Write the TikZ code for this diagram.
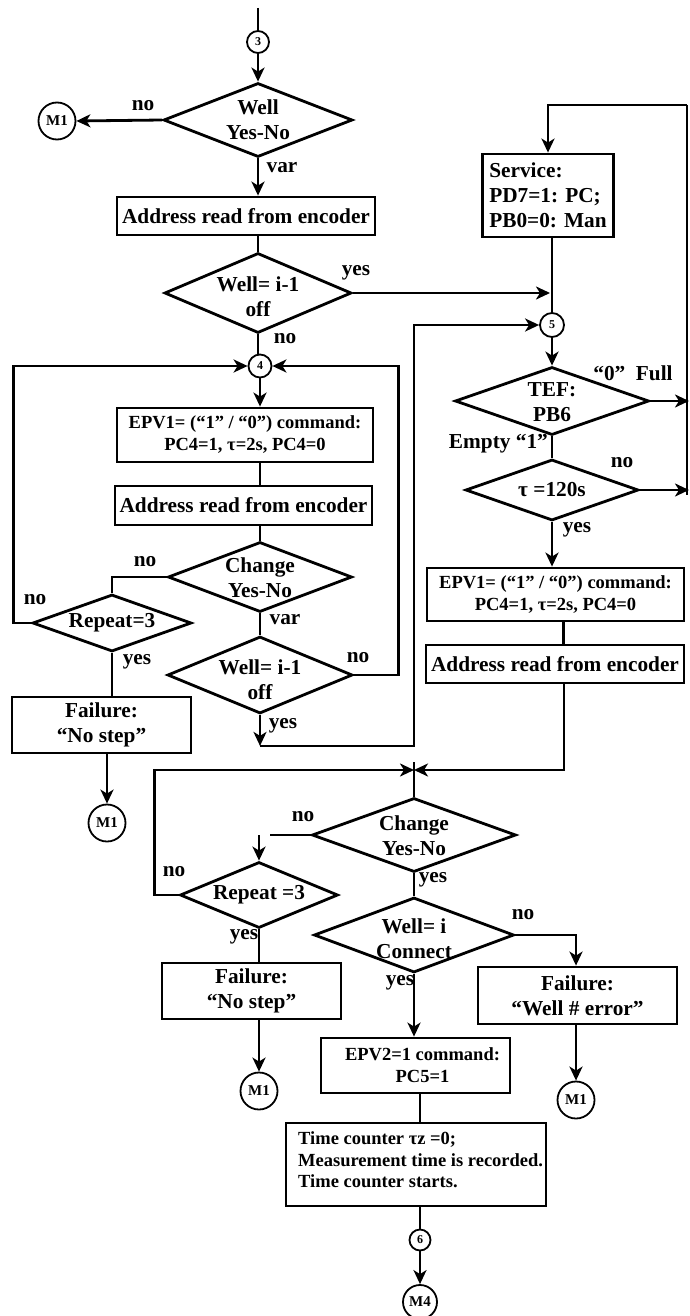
\documentclass[tikz,border=0pt]{standalone}
\usepackage{fontspec}
\setmainfont{Liberation Serif}
\usetikzlibrary{arrows.meta,shapes.geometric}
\begin{document}
\begin{tikzpicture}[x=1pt,y=-1pt,
 every node/.style={font=\bfseries\fontsize{21.3}{25}\selectfont},
 ln/.style={line width=2.8pt},
 arr/.style={line width=2.8pt,-{Stealth[length=14pt,width=13pt,inset=4pt]}},
 box/.style={draw,line width=2.8pt,inner sep=0pt,align=center},
 dia/.style={draw,diamond,line width=2.8pt,inner sep=0pt},
 txt/.style={inner sep=0pt,align=center},
 con/.style={draw,circle,line width=1.8pt,inner sep=0pt,minimum size=22pt,font=\bfseries\fontsize{12}{12}\selectfont},
 mcon/.style={draw,circle,line width=1.8pt,inner sep=0pt,minimum size=37pt,font=\bfseries\fontsize{15}{15}\selectfont},
 lab/.style={inner sep=0pt},
 sm/.style={font=\bfseries\fontsize{18.5}{22}\selectfont}
]
\useasboundingbox (0,0) rectangle (690,1316);

% ---------------- left column ----------------
\coordinate (top) at (258,8);
\node[con] (c3) at (258,42) {3};
\node[dia,minimum width=189pt,minimum height=74pt] (d1) at (258,120) {};
\node[txt] (d1t) at (258,120) {Well\\Yes-No};
\node[mcon] (m1a) at (57,121) {M1};
\node[box,minimum width=258pt,minimum height=38pt] (b1) at (246,216) {Address read from encoder};
\node[dia,minimum width=187pt,minimum height=80pt] (d2) at (258,293) {};
\node[txt] (d2t) at (258,297) {Well= i-1\\off};
\node[con,minimum size=23pt] (c4) at (260,366) {4};
\node[box,sm,minimum width=256pt,minimum height=54pt] (b2) at (245,435) {EPV1= (“1” / “0”) command:\\PC4=1, τ=2s, PC4=0};
\node[box,minimum width=257pt,minimum height=39pt] (b3) at (243.5,505.5) {Address read from encoder};
\node[dia,minimum width=184pt,minimum height=70pt] (d3) at (260,577) {};
\node[txt] (d3t) at (260,578) {Change\\Yes-No};
\node[dia,minimum width=159pt,minimum height=57pt] (d4) at (112,623) {};
\node[txt] (d4t) at (112,623) {Repeat=3};
\node[box,minimum width=179pt,minimum height=56pt] (b4) at (101.5,725) {Failure:\\“No step”};
\node[mcon] (m1b) at (107,823) {M1};
\node[dia,minimum width=185pt,minimum height=77pt] (d5) at (260,675) {};
\node[txt] (d5t) at (260,680) {Well= i-1\\off};

% ---------------- right column ----------------
\coordinate (tr) at (687,105);
\coordinate (trb) at (687,495);
\node[box,align=left,inner xsep=7pt,minimum width=130pt,minimum height=83pt] (b5) at (548,195.5) {Service:\\PD7=1: PC;\\PB0=0: Man};
\node[con,minimum size=24pt] (c5) at (552,325) {5};
\node[dia,minimum width=194pt,minimum height=68pt] (d6) at (552,401) {};
\node[txt] (d6t) at (552,402) {TEF:\\PB6};
\node[dia,minimum width=173pt,minimum height=61pt] (d7) at (552,490) {};
\node[txt] (d7t) at (552,490) {τ =120s};
\coordinate (r1) at (689,401);
\coordinate (r2) at (689,490);
\node[box,sm,minimum width=257pt,minimum height=53pt] (b6) at (555.5,594.5) {EPV1= (“1” / “0”) command:\\PC4=1, τ=2s, PC4=0};
\node[box,minimum width=258pt,minimum height=38pt] (b7) at (555,664) {Address read from encoder};

% ---------------- bottom part ----------------
\coordinate (X) at (414,770);
\coordinate (Xt) at (414,762);
\node[dia,minimum width=204pt,minimum height=74pt] (d8) at (414,835) {};
\node[txt] (d8t) at (414,836) {Change\\Yes-No};
\node[dia,minimum width=158pt,minimum height=66pt] (d9) at (259,895) {};
\node[txt] (d9t) at (259,895) {Repeat =3};
\node[box,minimum width=179pt,minimum height=56pt] (b8) at (251.5,991) {Failure:\\“No step”};
\node[mcon] (m1c) at (259,1091) {M1};
\node[dia,minimum width=200pt,minimum height=75pt] (d10) at (414,935) {};
\node[txt] (d10t) at (414,939) {Well= i\\Connect};
\node[box,minimum width=199pt,minimum height=57pt] (b9) at (577.5,995.5) {Failure:\\“Well \# error”};
\node[mcon] (m1d) at (576,1100) {M1};
\node[box,sm,minimum width=189pt,minimum height=55pt] (b10) at (415.5,1065.5) {\hspace*{14pt}EPV2=1 command:\\\hspace*{14pt}PC5=1};
\node[box,minimum width=260pt,minimum height=83pt] (b11) at (416,1164.5) {};
\node[txt,align=left,anchor=west,font=\bfseries\fontsize{18.5}{21.5}\selectfont] (b11t) at (298,1160) {Time counter τz =0;\\Measurement time is recorded.\\Time counter starts.};
\node[con,minimum size=21pt] (c6) at (420,1240) {6};
\node[mcon,minimum size=34pt] (m4) at (420,1302) {M4};

% ---------------- labels ----------------
\node[lab] (l1) at (143,106) {no};
\node[lab] (l2) at (282,168) {var};
\node[lab] (l3) at (356,273) {yes};
\node[lab] (l4) at (285,339) {no};
\node[lab] (l5) at (145,562) {no};
\node[lab] (l6) at (35,600) {no};
\node[lab] (l7) at (285,620) {var};
\node[lab] (l8) at (137,662) {yes};
\node[lab] (l9) at (358,658) {no};
\node[lab] (l10) at (283,726) {yes};
\node[lab] (l11) at (633,373) {“0”\ \ Full};
\node[lab,anchor=east] (l12) at (548,444) {Empty “1”};
\node[lab] (l13) at (622,463) {no};
\node[lab] (l14) at (577,530) {yes};
\node[lab] (l15) at (303,817) {no};
\node[lab] (l16) at (174,872) {no};
\node[lab] (l17) at (433,880) {yes};
\node[lab] (l18) at (244,937) {yes};
\node[lab] (l19) at (523,915) {no};
\node[lab] (l20) at (400,983) {yes};

% ---------------- connectors: left column ----------------
\draw[ln] (top) -- (c3.north);
\draw[arr] (c3.south) -- (d1.north);
\draw[arr] (d1.west) -- (m1a.east);
\draw[arr] (d1.south) -- (d1.south |- b1.north);
\draw[ln] (d2.north |- b1.south) -- (d2.north);
\draw[ln] (d2.south) -- (d2.south |- c4.north);
\draw[arr] (c4.south) -- (c4.south |- b2.north);
\draw[ln] (c4 |- b2.south) -- (c4 |- b3.north);
\draw[ln] (c4 |- b3.south) -- (d3.north);
\draw[ln] (d3.west) -| (d4.north);
\draw[ln] (d4.south) -- (d4.south |- b4.north);
\draw[arr] (m1b |- b4.south) -- (m1b.north);
\draw[ln] (d3.south) -- (d5.north);
\draw[arr] (d4.west) -- ++(-18,0) |- (c4.west);
\draw[arr] (d5.east) -- ++(44.5,0) |- (c4.east);
\draw[arr] (d5.south) -- ++(0,31) coordinate (p1);
\draw[arr] (p1) -- ++(154,0) |- (c5.west);
\draw[arr,shorten >=2pt] (d2.east) -- (c5 |- d2.east);

% ---------------- connectors: right column ----------------
\draw[arr] (tr) -| (b5.north);
\draw[line width=1.2pt] (tr) -- (trb);
\draw[ln] (c5 |- b5.south) -- (c5.north);
\draw[arr] (c5.south) -- (d6.north);
\draw[arr] (d6.east) -- (r1);
\draw[ln] (d6.south) -- (d7.north);
\draw[arr] (d7.east) -- (r2);
\draw[arr] (d7.south) -- (d7.south |- b6.north);
\draw[ln] ([xshift=8pt]b6.south) -- ([xshift=8pt]b6.south |- b7.north);
\draw[arr] ([xshift=9pt]b7.south) |- (X);

% ---------------- connectors: bottom ----------------
\draw[arr] (d9.west) -- ++(-24,0) |- (X);
\draw[ln] (Xt) -- (d8.north);
\draw[ln] (d8.west) -- ([xshift=11pt]d9.north |- d8.west);
\draw[arr] (d9.north |- d8.west) -- (d9.north);
\draw[ln] (d9.south) -- (d9.south |- b8.north);
\draw[arr] (m1c |- b8.south) -- (m1c.north);
\draw[ln] (d8.south) -- (d10.north);
\draw[arr] (d10.east) -| (m1d |- b9.north);
\draw[arr] (m1d |- b9.south) -- (m1d.north);
\draw[arr] (d10.south) -- (d10.south |- b10.north);
\draw[ln] (c6 |- b10.south) -- (c6 |- b11.north);
\draw[ln] (c6 |- b11.south) -- (c6.north);
\draw[arr] (c6.south) -- (m4.north);
\end{tikzpicture}
\end{document}
